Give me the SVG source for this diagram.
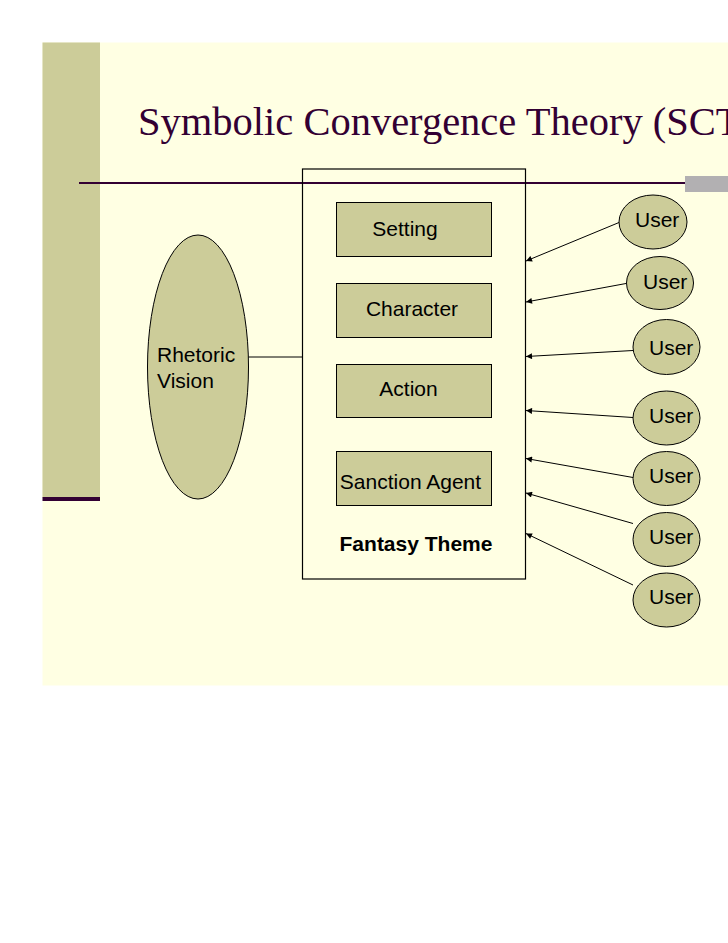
<svg xmlns="http://www.w3.org/2000/svg" width="728" height="943" viewBox="0 0 728 943">
<defs>
<style>
.box{fill:#CCCC99;stroke:#000;stroke-width:1}
.oval{fill:#CCCC99;stroke:#000;stroke-width:1}
.lbl{font-family:"Liberation Sans",Arial,sans-serif;font-size:21px;fill:#000}
.conn{stroke:#000;stroke-width:1;fill:none;marker-end:url(#ah)}
</style>
<marker id="ah" viewBox="0 0 10 10" refX="10" refY="5" markerWidth="7" markerHeight="6" markerUnits="userSpaceOnUse" orient="auto">
<path d="M0,0 L10,5 L0,10 z" fill="#000"/>
</marker>
</defs>
<rect x="0" y="0" width="728" height="943" fill="#FFFFFF"/>
<rect x="42.5" y="42.5" width="686" height="643" fill="#FFFFE3"/>
<rect x="42.5" y="42.5" width="57.5" height="455" fill="#CCCC99"/>
<rect x="42.5" y="497" width="57.5" height="4" fill="#330033"/>
<line x1="79" y1="183" x2="728" y2="183" stroke="#330033" stroke-width="2"/>
<rect x="685" y="176" width="43" height="16" fill="#B2B0B2"/>
<text x="138" y="134.5" font-family="'Liberation Serif','Times New Roman',serif" font-size="40.5" fill="#330033">Symbolic Convergence Theory (SCT</text>

<g id="fantasy-theme">
<rect x="302.5" y="169" width="223" height="410" fill="none" stroke="#000" stroke-width="1.2"/>
<text x="416" y="551" text-anchor="middle" font-family="'Liberation Sans',Arial,sans-serif" font-size="21" font-weight="bold" fill="#000">Fantasy Theme</text>
</g>
<g id="setting">
<rect class="box" x="336.5" y="202.5" width="155" height="54"/>
<text class="lbl" x="405" y="236" text-anchor="middle">Setting</text>
</g>
<g id="character">
<rect class="box" x="336.5" y="283.5" width="155" height="54"/>
<text class="lbl" x="412" y="316" text-anchor="middle">Character</text>
</g>
<g id="action">
<rect class="box" x="336.5" y="364.5" width="155" height="53"/>
<text class="lbl" x="408.5" y="396" text-anchor="middle">Action</text>
</g>
<g id="sanction-agent">
<rect class="box" x="336.5" y="451.5" width="155" height="54"/>
<text class="lbl" x="410.5" y="489" text-anchor="middle">Sanction Agent</text>
</g>
<g id="rhetoric-vision">
<ellipse class="oval" cx="198" cy="367" rx="50.5" ry="132"/>
<text class="lbl" x="157"><tspan x="157" y="362">Rhetoric</tspan><tspan x="157" y="388">Vision</tspan></text>
</g>
<g id="user1"><ellipse class="oval" cx="653" cy="222" rx="34" ry="27"/><text class="lbl" x="635" y="227">User</text></g>
<g id="user2"><ellipse class="oval" cx="660" cy="283" rx="33.5" ry="26.5"/><text class="lbl" x="643" y="288.5">User</text></g>
<g id="user3"><ellipse class="oval" cx="666.5" cy="347" rx="33.5" ry="27.5"/><text class="lbl" x="649" y="355">User</text></g>
<g id="user4"><ellipse class="oval" cx="666.5" cy="418" rx="33.5" ry="27"/><text class="lbl" x="649" y="423">User</text></g>
<g id="user5"><ellipse class="oval" cx="666.5" cy="478.5" rx="33.5" ry="27"/><text class="lbl" x="649" y="483">User</text></g>
<g id="user6"><ellipse class="oval" cx="666.5" cy="539.5" rx="33.5" ry="27"/><text class="lbl" x="649" y="543.5">User</text></g>
<g id="user7"><ellipse class="oval" cx="666.5" cy="600" rx="33.5" ry="27"/><text class="lbl" x="649" y="604">User</text></g>

<g id="connectors">
<line x1="248.5" y1="357" x2="302.5" y2="357" stroke="#000" stroke-width="1"/>
<line class="conn" x1="619" y1="222.5" x2="526" y2="261"/>
<line class="conn" x1="626" y1="283.5" x2="526" y2="302"/>
<line class="conn" x1="633" y1="350.5" x2="526" y2="356.5"/>
<line class="conn" x1="633" y1="417.5" x2="526" y2="410.5"/>
<line class="conn" x1="633" y1="477.5" x2="526" y2="458.5"/>
<line class="conn" x1="633" y1="523.5" x2="526" y2="493"/>
<line class="conn" x1="633" y1="585" x2="526" y2="533.5"/>
</g>
</svg>
